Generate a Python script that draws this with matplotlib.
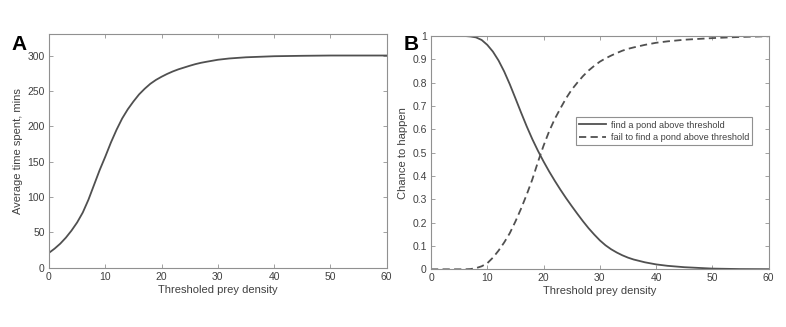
import numpy as np
import matplotlib.pyplot as plt

plt.rcParams['font.family'] = ['Liberation Sans', 'DejaVu Sans']

# panel A: average time spent vs threshold prey density
dens_a = [0, 1, 2, 3, 4, 5, 6, 7, 8, 9, 10, 11, 12, 13, 14, 15, 16, 17, 18, 19, 20,
          21, 22, 23, 24, 25, 26, 27, 28, 29, 30, 32, 35, 40, 45, 50, 55, 60]
time_a = [21, 27, 34, 42.5, 52.5, 64, 78, 96, 117, 138, 157, 177, 195, 211, 224, 235, 245, 253, 260, 265.5, 270,
          274, 277.5, 280.5, 283, 285.5, 287.8, 289.7, 291.2, 292.6, 294, 295.8, 297.5, 299, 299.6, 300, 300, 300]

# panel B: chance to find / fail to find a pond above threshold
dens_b = [0, 2, 4, 6, 7, 8, 9, 10, 11, 12, 13, 14, 15, 16, 17, 18, 19, 20, 21, 22, 23, 24, 25,
          26, 27, 28, 29, 30, 31, 32, 33, 34, 35, 36, 38, 40, 42, 45, 50, 55, 60]
find_b = [1.0, 1.0, 1.0, 1.0, 0.998, 0.994, 0.983, 0.962, 0.933, 0.895, 0.848, 0.793, 0.733, 0.672,
          0.613, 0.558, 0.508, 0.462, 0.419, 0.379, 0.341, 0.305, 0.271, 0.238, 0.206, 0.176, 0.149, 0.124,
          0.103, 0.086, 0.072, 0.06, 0.05, 0.042, 0.03, 0.021, 0.015, 0.009, 0.003, 0.001, 0.0005]
fail_b = [0.0, 0.0, 0.0, 0.0, 0.001, 0.005, 0.013, 0.026, 0.05, 0.08, 0.115, 0.155, 0.205, 0.26,
          0.32, 0.385, 0.46, 0.53, 0.592, 0.645, 0.69, 0.733, 0.77, 0.8, 0.828, 0.852, 0.872, 0.89,
          0.904, 0.916, 0.927, 0.937, 0.945, 0.951, 0.962, 0.971, 0.977, 0.984, 0.991, 0.996, 0.999]

line_col = '#505050'
txt_col = '#404040'
ax_col = '#909090'

fig = plt.figure(figsize=(7.86, 3.27), dpi=100)
axA = fig.add_axes([49/786, 1-267.7/327, (386.7-49)/786, (267.7-34.3)/327])
axB = fig.add_axes([431/786, 1-269.3/327, (768.7-431)/786, (269.3-36)/327])

def style(ax):
    for s in ax.spines.values():
        s.set_color(ax_col)
        s.set_linewidth(0.8)
    ax.tick_params(direction='in', top=True, right=True, colors=ax_col,
                   labelcolor=txt_col, labelsize=7.5, length=3, width=0.6, pad=3)

axA.plot(dens_a, time_a, color=line_col, lw=1.3)
axA.set_xlim(0, 60)
axA.set_ylim(0, 330)
axA.set_xticks(np.arange(0, 61, 10))
axA.set_yticks(np.arange(0, 301, 50))
axA.set_xlabel('Thresholed prey density', color=txt_col, fontsize=8, labelpad=2)
axA.set_ylabel('Average time spent, mins', color=txt_col, fontsize=8, labelpad=3)
style(axA)

axB.plot(dens_b, find_b, color=line_col, lw=1.3, label='find a pond above threshold')
axB.plot(dens_b, fail_b, color=line_col, lw=1.3, ls=(0, (4, 2.4)), label='fail to find a pond above threshold')
axB.set_xlim(0, 60)
axB.set_ylim(0, 1)
axB.set_xticks(np.arange(0, 61, 10))
axB.set_yticks(np.arange(0, 1.01, 0.1))
axB.set_yticklabels(['0', '0.1', '0.2', '0.3', '0.4', '0.5', '0.6', '0.7', '0.8', '0.9', '1'])
axB.set_xlabel('Threshold prey density', color=txt_col, fontsize=8, labelpad=2)
axB.set_ylabel('Chance to happen', color=txt_col, fontsize=8, labelpad=3)
style(axB)
leg = axB.legend(loc='upper right', bbox_to_anchor=(0.951, 0.651), fontsize=6.6, frameon=True,
                 fancybox=False, framealpha=1, edgecolor=ax_col, handlelength=2.9,
                 borderpad=0.35, labelspacing=0.35, handletextpad=0.55, borderaxespad=0)
for t in leg.get_texts():
    t.set_color(txt_col)
leg.get_frame().set_linewidth(0.8)

fig.text(11/786, 1-50/327, 'A', fontsize=15, fontweight='bold', color='black')
fig.text(404/786, 1-50/327, 'B', fontsize=15, fontweight='bold', color='black')

fig.savefig('out.png', dpi=100)
